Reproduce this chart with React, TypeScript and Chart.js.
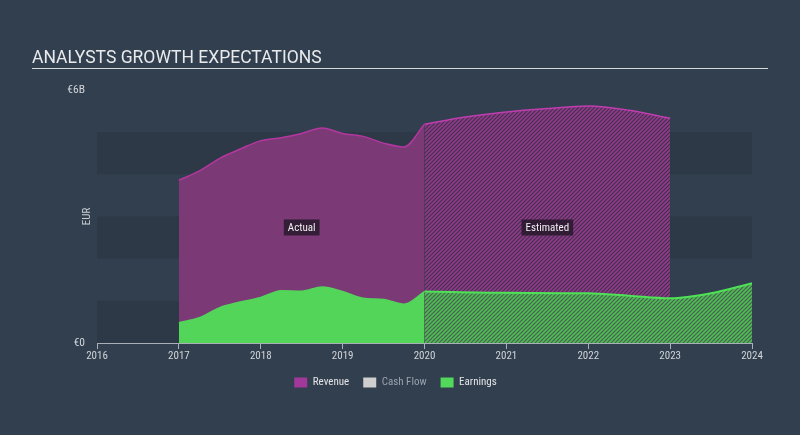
import { useEffect, useRef } from "react";
import { Chart, registerables } from "chart.js";

Chart.register(...registerables);

const xTickYears = [2016, 2017, 2018, 2019, 2020, 2021, 2022, 2023, 2024];
const actualYears = [2017, 2017.25, 2017.5, 2017.75, 2018, 2018.25, 2018.5, 2018.75, 2019, 2019.25, 2019.5, 2019.75, 2020];
const revenueActual = [3.86, 4.08, 4.38, 4.6, 4.8, 4.87, 4.97, 5.1, 4.97, 4.9, 4.74, 4.65, 5.19];
const earningsActual = [0.48, 0.6, 0.84, 0.97, 1.08, 1.24, 1.23, 1.33, 1.22, 1.06, 1.03, 0.92, 1.22];
const revenueEstYears = [2020, 2020.5, 2021, 2021.5, 2022, 2022.5, 2023];
const revenueEstimate = [5.19, 5.36, 5.48, 5.56, 5.62, 5.52, 5.33];
const earningsEstYears = [2020, 2021, 2022, 2022.5, 2023, 2023.5, 2024];
const earningsEstimate = [1.22, 1.19, 1.18, 1.12, 1.06, 1.18, 1.42];
const yTickValues = [0, 6];
const yTickLabels = ["€0", "€6B"];
const legendNames = ["Revenue", "Cash Flow", "Earnings"];
const bandRanges = [[0, 1], [2, 3], [4, 5]];

const BG = "#323f4f";
const BAND = "#2d3947";
const FONT = "'Roboto Condensed','Liberation Sans Narrow',Roboto,sans-serif";

function makeHatch(bg: string, line: string) {
  const c = document.createElement("canvas");
  c.width = 4;
  c.height = 4;
  const ctx = c.getContext("2d")!;
  ctx.fillStyle = bg;
  ctx.fillRect(0, 0, 4, 4);
  ctx.strokeStyle = line;
  ctx.lineWidth = 1.6;
  ctx.beginPath();
  ctx.moveTo(-1, 5);
  ctx.lineTo(5, -1);
  ctx.moveTo(-1, 1);
  ctx.lineTo(1, -1);
  ctx.moveTo(3, 5);
  ctx.lineTo(5, 3);
  ctx.stroke();
  return ctx.createPattern(c, "repeat")!;
}

const pts = (xs: number[], ys: number[]) => xs.map((x, i) => ({ x, y: ys[i] }));

const decorPlugin = {
  id: "decor",
  beforeDraw(chart: any) {
    const { ctx, chartArea, scales } = chart;
    ctx.save();
    ctx.fillStyle = BG;
    ctx.fillRect(0, 0, chart.width, chart.height);
    ctx.fillStyle = BAND;
    for (const [a, b] of bandRanges) {
      const y1 = scales.y.getPixelForValue(b);
      const y2 = scales.y.getPixelForValue(a);
      ctx.fillRect(chartArea.left, y1, chartArea.right - chartArea.left, y2 - y1);
    }
    // title
    ctx.fillStyle = "#e8eaec";
    ctx.font = "17.5px Roboto";
    ctx.textBaseline = "alphabetic";
    ctx.textAlign = "left";
    ctx.fillText("ANALYSTS GROWTH EXPECTATIONS", 32, 63);
    ctx.fillStyle = "#d6d9dc";
    ctx.fillRect(32, 68, 736, 1);
    // axis title
    ctx.translate(87, scales.y.getPixelForValue(3));
    ctx.rotate(-Math.PI / 2);
    ctx.fillStyle = "#c9cdd2";
    ctx.font = "11px " + FONT;
    ctx.textAlign = "center";
    ctx.textBaseline = "middle";
    ctx.fillText("EUR", 0, 0);
    ctx.restore();
  },
  afterDatasetsDraw(chart: any) {
    const { ctx, scales } = chart;
    const labels: [string, number][] = [["Actual", 2018.5], ["Estimated", 2021.5]];
    ctx.save();
    ctx.font = "11px " + FONT;
    ctx.textAlign = "center";
    ctx.textBaseline = "middle";
    for (const [t, yr] of labels) {
      const cx = scales.x.getPixelForValue(yr);
      const cy = scales.y.getPixelForValue(2.74);
      const w = ctx.measureText(t).width + 8;
      ctx.fillStyle = "rgba(28,20,34,0.75)";
      ctx.fillRect(cx - w / 2, cy - 8, w, 16);
      ctx.fillStyle = "#f0f0f0";
      ctx.fillText(t, cx, cy + 0.5);
    }
    ctx.restore();
  },
};

export default function App() {
  const ref = useRef<HTMLCanvasElement>(null);
  useEffect(() => {
    document.body.style.margin = "0";
    const revHatch = makeHatch("#45304f", "#8f3b89");
    const earnHatch = makeHatch("#4d5d55", "#4cc052");
    const chart = new Chart(ref.current!, {
      type: "line",
      data: {
        datasets: [
          {
            label: "EarningsActual",
            data: pts(actualYears, earningsActual),
            borderColor: "#53d55a",
            backgroundColor: "#53d55a",
            borderWidth: 1.5,
            fill: "origin",
            pointRadius: 0,
            cubicInterpolationMode: "monotone",
            order: 1,
          },
          {
            label: "EarningsEstimate",
            data: pts(earningsEstYears, earningsEstimate),
            borderColor: "#4fe257",
            backgroundColor: earnHatch,
            borderWidth: 2,
            fill: "origin",
            pointRadius: 0,
            cubicInterpolationMode: "monotone",
            order: 2,
          },
          {
            label: "RevenueActual",
            data: pts(actualYears, revenueActual),
            borderColor: "#b3379f",
            backgroundColor: "#7b3a76",
            borderWidth: 1.5,
            fill: "origin",
            pointRadius: 0,
            cubicInterpolationMode: "monotone",
            order: 3,
          },
          {
            label: "RevenueEstimate",
            data: pts(revenueEstYears, revenueEstimate),
            borderColor: "#c03eb0",
            backgroundColor: revHatch,
            borderWidth: 1.5,
            fill: "origin",
            pointRadius: 0,
            cubicInterpolationMode: "monotone",
            order: 4,
          },
        ],
      },
      options: {
        animation: false,
        responsive: false,
        maintainAspectRatio: false,
        layout: { padding: { top: 90, right: 9, left: 0, bottom: 37 } },
        scales: {
          x: {
            type: "linear",
            min: 2016,
            max: 2024,
            afterBuildTicks: (s: any) => {
              s.ticks = xTickYears.map((v) => ({ value: v }));
            },
            afterFit: (s: any) => {
              s.height = 20;
            },
            ticks: {
              color: "#d0d4d8",
              font: { size: 11, family: FONT },
              padding: 1,
              maxRotation: 0,
              callback: (v: any) => String(v),
            },
            grid: { display: true, drawOnChartArea: false, drawTicks: true, tickLength: 6, color: "#a9b0b8" },
            border: { display: true, color: "#a9b0b8" },
          },
          y: {
            min: 0,
            max: 6,
            afterBuildTicks: (s: any) => {
              s.ticks = yTickValues.map((v) => ({ value: v }));
            },
            afterFit: (s: any) => {
              s.width = 97;
            },
            ticks: {
              color: "#d0d4d8",
              font: { size: 11.5, family: FONT },
              padding: 12,
              callback: (v: any) => yTickLabels[yTickValues.indexOf(Number(v))] ?? "",
            },
            grid: { display: false, drawTicks: false, tickLength: 0 },
            border: { display: false },
          },
          yRight: {
            position: "right",
            min: 0,
            max: 6,
            afterFit: (s: any) => {
              s.width = 39;
            },
            ticks: { display: false },
            grid: { display: false, drawTicks: false },
            border: { display: false },
          },
        },
        plugins: {
          tooltip: { enabled: false },
          legend: {
            position: "bottom",
            onClick: () => {},
            labels: {
              boxWidth: 13,
              boxHeight: 10,
              padding: 14,
              font: { size: 11, family: FONT },
              generateLabels: () =>
                legendNames.map((name, i) => ({
                  text: name,
                  fillStyle: ["#a2399a", "#cfcfcf", "#52d85a"][i],
                  strokeStyle: ["#a2399a", "#cfcfcf", "#52d85a"][i],
                  lineWidth: 0,
                  fontColor: i === 1 ? "#9aa2ac" : "#e2e4e6",
                  hidden: false,
                  datasetIndex: i,
                })),
            },
          },
        },
      },
      plugins: [decorPlugin],
    } as any);
    return () => chart.destroy();
  }, []);
  return (
    <div style={{ position: "absolute", left: 0, top: 0, width: 800, height: 435, background: BG }}>
      <canvas ref={ref} width={800} height={435} style={{ display: "block", width: 800, height: 435 }} />
    </div>
  );
}
